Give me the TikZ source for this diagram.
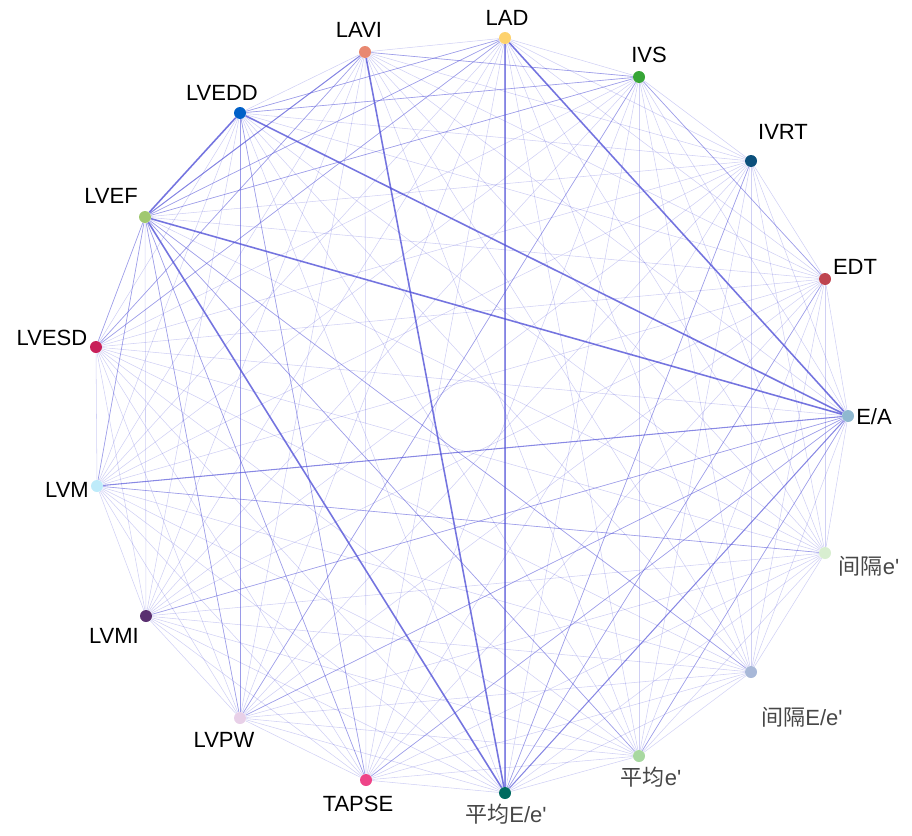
\documentclass[tikz,border=0pt]{standalone}
\usepackage{fontspec}
\setmainfont{Liberation Sans}
\newfontfamily\latfont{Liberation Sans}
\newfontfamily\cjk{Noto Sans CJK SC}
\usetikzlibrary{backgrounds}
\definecolor{edgeblue}{RGB}{80,80,215}
\definecolor{cEA}{RGB}{143,184,208}
\definecolor{cEDT}{RGB}{190,68,80}
\definecolor{cIVRT}{RGB}{12,80,124}
\definecolor{cIVS}{RGB}{55,165,55}
\definecolor{cLAD}{RGB}{253,210,110}
\definecolor{cLAVI}{RGB}{232,136,112}
\definecolor{cLVEDD}{RGB}{0,96,200}
\definecolor{cLVEF}{RGB}{160,200,112}
\definecolor{cLVESD}{RGB}{200,32,90}
\definecolor{cLVM}{RGB}{190,235,250}
\definecolor{cLVMI}{RGB}{90,48,112}
\definecolor{cLVPW}{RGB}{232,208,232}
\definecolor{cTAPSE}{RGB}{238,68,136}
\definecolor{cMEE}{RGB}{0,107,96}
\definecolor{cME}{RGB}{168,216,160}
\definecolor{cSEE}{RGB}{168,184,216}
\definecolor{cSE}{RGB}{216,238,208}
\tikzset{
  dot/.style={circle, inner sep=0pt, minimum size=9pt, draw=none},
  lab/.style={font=\latfont\fontsize{16.5}{18}\selectfont, text=black, inner sep=0pt},
  cjklab/.style={lab, text=black!72},
  ef/.style={draw=edgeblue, line width=0.4pt, opacity=0.27},
  el/.style={draw=edgeblue, line width=0.5pt, opacity=0.42},
  em/.style={draw=edgeblue, line width=0.8pt, opacity=0.6},
  es/.style={draw=edgeblue, line width=1.2pt, opacity=0.75},
}
\begin{document}
\begin{tikzpicture}[x=0.75pt,y=-0.75pt]
\useasboundingbox (0,0) rectangle (912,835);
% nodes
\node[dot,fill=cEA]    (EA)    at (848,416) {};
\node[dot,fill=cEDT]   (EDT)   at (825,279) {};
\node[dot,fill=cIVRT]  (IVRT)  at (751,161) {};
\node[dot,fill=cIVS]   (IVS)   at (639,77)  {};
\node[dot,fill=cLAD]   (LAD)   at (505,38)  {};
\node[dot,fill=cLAVI]  (LAVI)  at (365,52)  {};
\node[dot,fill=cLVEDD] (LVEDD) at (240,113) {};
\node[dot,fill=cLVEF]  (LVEF)  at (145,217) {};
\node[dot,fill=cLVESD] (LVESD) at (96,347)  {};
\node[dot,fill=cLVM]   (LVM)   at (97,486)  {};
\node[dot,fill=cLVMI]  (LVMI)  at (146,616) {};
\node[dot,fill=cLVPW]  (LVPW)  at (240,718) {};
\node[dot,fill=cTAPSE] (TAPSE) at (366,780) {};
\node[dot,fill=cMEE]   (MEE)   at (505,793) {};
\node[dot,fill=cME]    (ME)    at (639,756) {};
\node[dot,fill=cSEE]   (SEE)   at (751,672) {};
\node[dot,fill=cSE]    (SE)    at (825,553) {};
% edges
\begin{scope}[on background layer]
\foreach [count=\i] \a in {EA,EDT,IVRT,IVS,LAD,LAVI,LVEDD,LVEF,LVESD,LVM,LVMI,LVPW,TAPSE,MEE,ME,SEE,SE}{
  \foreach [count=\j] \b in {EA,EDT,IVRT,IVS,LAD,LAVI,LVEDD,LVEF,LVESD,LVM,LVMI,LVPW,TAPSE,MEE,ME,SEE,SE}{
    \ifnum\j>\i \draw[ef] (\a) -- (\b); \fi
  }
}
\foreach \a/\b in {IVS/LVPW, LVPW/EA, LVMI/EA, TAPSE/EA, ME/EA, SEE/LVEF, IVS/EDT,
  IVRT/MEE, EDT/MEE, LVEDD/IVS, LVEF/IVS, LVEF/LAD, LAD/LVEDD, LAVI/IVS, SE/LVM,
  LVEF/ME, LVEF/LVPW, LVEF/TAPSE, LVM/LVEF, LVESD/LVEF, LVEDD/TAPSE, LAVI/LVESD, LAD/LVESD,
  LVEDD/LVPW}
  \draw[el] (\a) -- (\b);
\foreach \a/\b in {LAD/MEE, LVM/EA, EA/MEE, LVEF/LAVI}
  \draw[em] (\a) -- (\b);
\foreach \a/\b in {LVEF/LVEDD, LVEF/EA, LVEDD/EA, LVEF/MEE, LAVI/MEE, LAD/EA}
  \draw[es] (\a) -- (\b);
\end{scope}
% labels
\node[lab] (tLAD)   at (507,18)  {LAD};
\node[lab] (tIVS)   at (649,55)  {IVS};
\node[lab] (tIVRT)  at (783,132) {IVRT};
\node[lab] (tEDT)   at (855,267) {EDT};
\node[lab] (tEA)    at (874,417) {E/A};
\node[cjklab] (tSE)  at (869,566) {{\cjk 间隔}e'};
\node[cjklab] (tSEE) at (802,717) {{\cjk 间隔}E/e'};
\node[cjklab] (tME)  at (651,777) {{\cjk 平均}e'};
\node[cjklab] (tMEE) at (506,814) {{\cjk 平均}E/e'};
\node[lab] (tTAPSE) at (358,804) {TAPSE};
\node[lab] (tLVPW)  at (224,740) {LVPW};
\node[lab] (tLVMI)  at (114,636) {LVMI};
\node[lab] (tLVM)   at (67,490)  {LVM};
\node[lab] (tLVESD) at (52,338)  {LVESD};
\node[lab] (tLVEF)  at (111,196) {LVEF};
\node[lab] (tLVEDD) at (222,93)  {LVEDD};
\node[lab] (tLAVI)  at (359,30)  {LAVI};
\end{tikzpicture}
\end{document}
